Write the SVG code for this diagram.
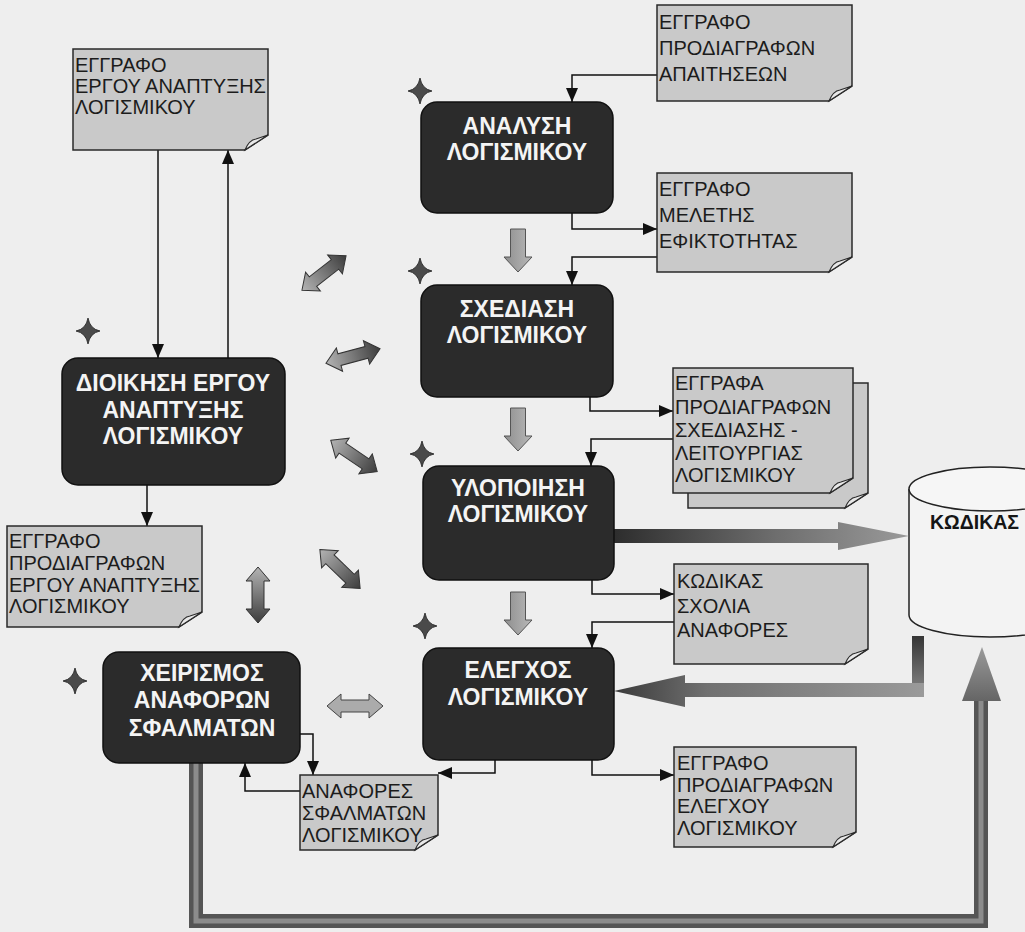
<svg xmlns="http://www.w3.org/2000/svg" width="1025" height="932" viewBox="0 0 1025 932">
  <defs>
    <style>
      .bg { fill: #eeeeee; }
      .proc rect { fill: #2b2b2b; stroke: #111; stroke-width: 1.5; }
      .proc text { font-family: "Liberation Sans", Arial, sans-serif; font-weight: bold; font-size: 23px; fill: #f4f4f4; text-anchor: middle; }
      .doc .sheet { fill: #c9c9c9; stroke: #2a2a2a; stroke-width: 1.5; }
      .doc .flap { fill: #e8e8e8; stroke: #2a2a2a; stroke-width: 1.2; }
      .doc text { font-family: "Liberation Sans", Arial, sans-serif; font-size: 20px; fill: #1c1c1c; }
      .link { fill: none; stroke: #111; stroke-width: 1.5; marker-end: url(#tip); }
      .star { fill: #4a4a4a; stroke: #222; stroke-width: 0.8; }
      .dbl { fill: url(#gDbl); stroke: #333; stroke-width: 1; }
      .down { fill: url(#gDown); stroke: #555; stroke-width: 1; }
    </style>
    <marker id="tip" markerUnits="userSpaceOnUse" markerWidth="14" markerHeight="12" viewBox="0 0 14 12" refX="14" refY="6" orient="auto">
      <path d="M0,0 L14,6 L0,12 Z" fill="#111"/>
    </marker>
    <linearGradient id="gDbl" x1="0" y1="0" x2="1" y2="0">
      <stop offset="0" stop-color="#b4b4b4"/>
      <stop offset="1" stop-color="#3c3c3c"/>
    </linearGradient>
    <linearGradient id="gDown" x1="0" y1="0" x2="1" y2="0">
      <stop offset="0" stop-color="#8e8e8e"/>
      <stop offset="1" stop-color="#b8b8b8"/>
    </linearGradient>
    <linearGradient id="gOut" gradientUnits="userSpaceOnUse" x1="614" y1="0" x2="909" y2="0">
      <stop offset="0" stop-color="#2d2d2d"/>
      <stop offset="0.55" stop-color="#6e6e6e"/>
      <stop offset="1" stop-color="#9a9a9a"/>
    </linearGradient>
    <linearGradient id="gBackH" gradientUnits="userSpaceOnUse" x1="614" y1="0" x2="924" y2="0">
      <stop offset="0" stop-color="#3a3a3a"/>
      <stop offset="0.3" stop-color="#707070"/>
      <stop offset="1" stop-color="#9a9a9a"/>
    </linearGradient>
    <linearGradient id="gBackV" gradientUnits="userSpaceOnUse" x1="0" y1="636" x2="0" y2="697">
      <stop offset="0" stop-color="#353535"/>
      <stop offset="1" stop-color="#8a8a8a"/>
    </linearGradient>
    <linearGradient id="gUp" gradientUnits="userSpaceOnUse" x1="0" y1="647" x2="0" y2="700">
      <stop offset="0" stop-color="#9a9a9a"/>
      <stop offset="1" stop-color="#666"/>
    </linearGradient>
    <!-- double-headed block arrow, 56 long, centred on the origin -->
    <path id="dblArrow" d="M-28,0 L-14,-12 L-14,-6 L14,-6 L14,-12 L28,0 L14,12 L14,6 L-14,6 L-14,12 Z"/>
    <!-- small downward block arrow, 43 tall -->
    <path id="downArrow" d="M-7.5,0 H7.5 V28 H14 L0,43 L-14,28 H-7.5 Z"/>
    <!-- four-pointed sparkle -->
    <path id="sparkle" d="M0,-13 Q2,-2 12,0 Q2,2 0,13 Q-2,2 -12,0 Q-2,-2 0,-13 Z"/>
  </defs>

  <rect class="bg" x="0" y="0" width="1025" height="932"/>

  <!-- data store -->
  <g id="store">
    <path d="M909,489 V615 A81,22 0 0 0 1071,615 V489" fill="#f3f3f3" stroke="#222" stroke-width="1.5"/>
    <ellipse cx="990" cy="489" rx="81" ry="22" fill="#f6f6f6" stroke="#222" stroke-width="1.5"/>
    <text x="930" y="529" font-family="Liberation Sans, Arial, sans-serif" font-weight="bold" font-size="19.5" fill="#151515">ΚΩΔΙΚΑΣ</text>
  </g>

  <!-- heavy flow arrows -->
  <g id="flows">
    <path d="M614,529 H838 V522 L909,536 L838,550 V543 H614 Z" fill="url(#gOut)"/>
    <rect x="912" y="636" width="12" height="61" fill="url(#gBackV)"/>
    <path d="M924,683 V697 H685 V707 L614,691 L685,675 V683 Z" fill="url(#gBackH)"/>
    <path d="M196,763 V921 H981 V700" fill="none" stroke="#555" stroke-width="14"/>
    <path d="M196,763 V921 H981 V700" fill="none" stroke="#8c8c8c" stroke-width="5"/>
    <path d="M962,701 L1001,701 L982,647 Z" fill="url(#gUp)"/>
  </g>

  <!-- connectors -->
  <g id="connectors">
    <path class="link" d="M158,150 V358"/>
    <path class="link" d="M228,358 V150"/>
    <path class="link" d="M147,485 V526"/>
    <path class="link" d="M657,75 H572 V102"/>
    <path class="link" d="M572,213 V229 H657"/>
    <path class="link" d="M657,257 H572 V285"/>
    <path class="link" d="M590,397 V411 H673"/>
    <path class="link" d="M673,439 H591 V466"/>
    <path class="link" d="M592,580 V594 H674"/>
    <path class="link" d="M674,622 H592 V648"/>
    <path class="link" d="M592,760 V775 H674"/>
    <path class="link" d="M495,760 V773 H438"/>
    <path class="link" d="M300,734 H313 V775"/>
    <path class="link" d="M300,791 H245 V763"/>

    <use href="#downArrow" class="down" x="518" y="229"/>
    <use href="#downArrow" class="down" x="518" y="408"/>
    <use href="#downArrow" class="down" x="518" y="592"/>

    <use href="#dblArrow" class="dbl" transform="translate(324,273) rotate(-38)"/>
    <use href="#dblArrow" class="dbl" transform="translate(353,356) rotate(-15)"/>
    <use href="#dblArrow" class="dbl" transform="translate(354,456) rotate(34)"/>
    <use href="#dblArrow" class="dbl" transform="translate(340,569) rotate(44)"/>
    <use href="#dblArrow" class="dbl" transform="translate(258,595) rotate(90)"/>
    <use href="#dblArrow" fill="#ababab" stroke="#444" stroke-width="1" transform="translate(355,706)"/>
  </g>

  <!-- sparkles -->
  <g id="sparkles">
    <use href="#sparkle" class="star" x="420" y="91"/>
    <use href="#sparkle" class="star" x="420" y="271"/>
    <use href="#sparkle" class="star" x="88" y="331"/>
    <use href="#sparkle" class="star" x="422" y="454"/>
    <use href="#sparkle" class="star" x="425" y="626"/>
    <use href="#sparkle" class="star" x="75" y="681"/>
  </g>

  <!-- process steps -->
  <g id="analysis" class="proc">
    <rect x="421" y="102" width="192" height="111" rx="16"/>
    <text x="517" y="134">ΑΝΑΛΥΣΗ</text>
    <text x="517" y="160">ΛΟΓΙΣΜΙΚΟΥ</text>
  </g>
  <g id="design" class="proc">
    <rect x="421" y="285" width="192" height="112" rx="16"/>
    <text x="517" y="317">ΣΧΕΔΙΑΣΗ</text>
    <text x="517" y="343">ΛΟΓΙΣΜΙΚΟΥ</text>
  </g>
  <g id="implementation" class="proc">
    <rect x="423" y="466" width="191" height="114" rx="16"/>
    <text x="518" y="496">ΥΛΟΠΟΙΗΣΗ</text>
    <text x="518" y="522">ΛΟΓΙΣΜΙΚΟΥ</text>
  </g>
  <g id="testing" class="proc">
    <rect x="423" y="648" width="191" height="112" rx="16"/>
    <text x="518" y="678">ΕΛΕΓΧΟΣ</text>
    <text x="518" y="705">ΛΟΓΙΣΜΙΚΟΥ</text>
  </g>
  <g id="management" class="proc">
    <rect x="62" y="358" width="223" height="127" rx="16"/>
    <text x="173" y="391">ΔΙΟΙΚΗΣΗ ΕΡΓΟΥ</text>
    <text x="173" y="418">ΑΝΑΠΤΥΞΗΣ</text>
    <text x="173" y="444">ΛΟΓΙΣΜΙΚΟΥ</text>
  </g>
  <g id="defects" class="proc">
    <rect x="103" y="652" width="197" height="111" rx="16"/>
    <text x="202" y="681">ΧΕΙΡΙΣΜΟΣ</text>
    <text x="202" y="708">ΑΝΑΦΟΡΩΝ</text>
    <text x="202" y="736">ΣΦΑΛΜΑΤΩΝ</text>
  </g>

  <!-- documents -->
  <g id="doc-project-plan" class="doc">
    <path class="sheet" d="M73,49 H268 V135 L245,150 H73 Z"/>
    <path class="flap" d="M245,150 Q249,140 256,139 L268,135 Z"/>
    <text x="75" y="72">ΕΓΓΡΑΦΟ</text>
    <text x="75" y="93">ΕΡΓΟΥ ΑΝΑΠΤΥΞΗΣ</text>
    <text x="75" y="114">ΛΟΓΙΣΜΙΚΟΥ</text>
  </g>
  <g id="doc-requirements" class="doc">
    <path class="sheet" d="M657,5 H852 V86 L829,101 H657 Z"/>
    <path class="flap" d="M829,101 Q833,91 840,90 L852,86 Z"/>
    <text x="659" y="29">ΕΓΓΡΑΦΟ</text>
    <text x="659" y="55">ΠΡΟΔΙΑΓΡΑΦΩΝ</text>
    <text x="659" y="81">ΑΠΑΙΤΗΣΕΩΝ</text>
  </g>
  <g id="doc-feasibility" class="doc">
    <path class="sheet" d="M657,173 H852 V257 L829,272 H657 Z"/>
    <path class="flap" d="M829,272 Q833,262 840,261 L852,257 Z"/>
    <text x="659" y="196">ΕΓΓΡΑΦΟ</text>
    <text x="659" y="222">ΜΕΛΕΤΗΣ</text>
    <text x="659" y="248">ΕΦΙΚΤΟΤΗΤΑΣ</text>
  </g>
  <g id="doc-design-specs" class="doc">
    <path class="sheet" d="M688,383 H868 V493 L845,508 H688 Z"/>
    <path class="flap" d="M845,508 Q849,498 856,497 L868,493 Z"/>
    <path class="sheet" d="M673,368 H853 V478 L830,493 H673 Z"/>
    <path class="flap" d="M830,493 Q834,483 841,482 L853,478 Z"/>
    <text x="675" y="390">ΕΓΓΡΑΦΑ</text>
    <text x="675" y="414">ΠΡΟΔΙΑΓΡΑΦΩΝ</text>
    <text x="675" y="437">ΣΧΕΔΙΑΣΗΣ -</text>
    <text x="675" y="460">ΛΕΙΤΟΥΡΓΙΑΣ</text>
    <text x="675" y="482">ΛΟΓΙΣΜΙΚΟΥ</text>
  </g>
  <g id="doc-code" class="doc">
    <path class="sheet" d="M674,564 H868 V649 L845,664 H674 Z"/>
    <path class="flap" d="M845,664 Q849,654 856,653 L868,649 Z"/>
    <text x="677" y="588">ΚΩΔΙΚΑΣ</text>
    <text x="677" y="613">ΣΧΟΛΙΑ</text>
    <text x="677" y="637">ΑΝΑΦΟΡΕΣ</text>
  </g>
  <g id="doc-test-specs" class="doc">
    <path class="sheet" d="M674,747 H856 V832 L833,847 H674 Z"/>
    <path class="flap" d="M833,847 Q837,837 844,836 L856,832 Z"/>
    <text x="677" y="770">ΕΓΓΡΑΦΟ</text>
    <text x="677" y="792">ΠΡΟΔΙΑΓΡΑΦΩΝ</text>
    <text x="677" y="813">ΕΛΕΓΧΟΥ</text>
    <text x="677" y="835">ΛΟΓΙΣΜΙΚΟΥ</text>
  </g>
  <g id="doc-defect-reports" class="doc">
    <path class="sheet" d="M300,775 H438 V835 L415,850 H300 Z"/>
    <path class="flap" d="M415,850 Q419,840 426,839 L438,835 Z"/>
    <text x="302" y="798">ΑΝΑΦΟΡΕΣ</text>
    <text x="302" y="820">ΣΦΑΛΜΑΤΩΝ</text>
    <text x="302" y="842">ΛΟΓΙΣΜΙΚΟΥ</text>
  </g>
  <g id="doc-project-specs" class="doc">
    <path class="sheet" d="M7,526 H202 V612 L179,627 H7 Z"/>
    <path class="flap" d="M179,627 Q183,617 190,616 L202,612 Z"/>
    <text x="9" y="548">ΕΓΓΡΑΦΟ</text>
    <text x="9" y="570">ΠΡΟΔΙΑΓΡΑΦΩΝ</text>
    <text x="9" y="592">ΕΡΓΟΥ ΑΝΑΠΤΥΞΗΣ</text>
    <text x="9" y="613">ΛΟΓΙΣΜΙΚΟΥ</text>
  </g>
</svg>
